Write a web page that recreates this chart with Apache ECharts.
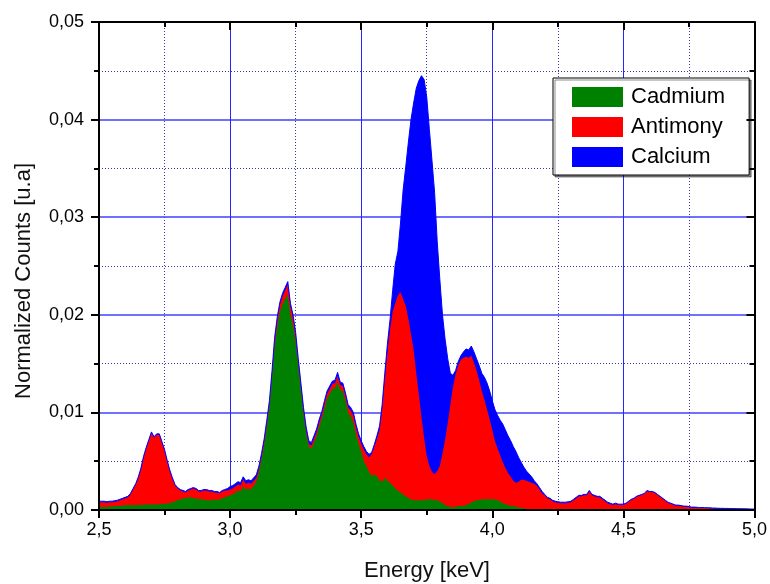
<!DOCTYPE html>
<html>
<head>
<meta charset="utf-8">
<script src="https://cdn.jsdelivr.net/npm/echarts@6/dist/echarts.min.js"></script>
<style>
  html, body { margin: 0; padding: 0; background: #fff; }
  #chart { width: 770px; height: 584px; }
</style>
</head>
<body>
<div id="chart"></div>
<script>
// Spectrum channels: 2.50 keV to 5.00 keV in 0.01 keV steps
const energyStart = 2.5;
const energyStep = 0.01;

const seriesNames = ['Cadmium', 'Antimony', 'Calcium'];
const seriesColors = ['#008000', '#ff0000', '#0000ff'];

// Normalized counts (top of each filled region)
const cadmium = [
  0.0003, 0.0003, 0.0003, 0.0003, 0.00035, 0.00035, 0.0004, 0.0004, 0.0004, 0.00045,
  0.00045, 0.0005, 0.0005, 0.00045, 0.0005, 0.00055, 0.0005, 0.00055, 0.0006, 0.00055,
  0.0006, 0.00055, 0.0006, 0.0006, 0.00065, 0.0006, 0.0007, 0.0007, 0.0008, 0.0009,
  0.0010, 0.0011, 0.0012, 0.0012, 0.0013, 0.0013, 0.0012, 0.0012, 0.0011, 0.0011,
  0.0011, 0.0010, 0.0010, 0.0010, 0.0011, 0.0010, 0.0011, 0.0012, 0.0013, 0.0014,
  0.0015, 0.0016, 0.0018, 0.0020, 0.0019, 0.0024, 0.0021, 0.0022, 0.0021, 0.0025,
  0.0029, 0.0039, 0.0052, 0.0066, 0.0085, 0.0105, 0.0135, 0.0168, 0.0188, 0.0203,
  0.0211, 0.0216, 0.0220, 0.0200, 0.0190, 0.0173, 0.0147, 0.0123, 0.0099, 0.0079,
  0.0065, 0.0063, 0.0069, 0.0076, 0.0086, 0.0094, 0.0104, 0.0114, 0.0119, 0.0124,
  0.0125, 0.0131, 0.0123, 0.0122, 0.0112, 0.0100, 0.0096, 0.0090, 0.0078, 0.0068,
  0.0060, 0.0050, 0.0045, 0.0039, 0.0035, 0.0036, 0.0035, 0.0030, 0.0029, 0.0033,
  0.0030, 0.0028, 0.0025, 0.0022, 0.0020, 0.0018, 0.0016, 0.0014, 0.0012, 0.0011,
  0.0010, 0.0010, 0.0010, 0.0010, 0.0010, 0.0011, 0.0011, 0.0011, 0.0010, 0.0010,
  0.0009, 0.0007, 0.0005, 0.0004, 0.0003, 0.0003, 0.0003, 0.0004, 0.0004, 0.0004,
  0.0005, 0.0006, 0.0008, 0.0009, 0.0010, 0.0010, 0.0011, 0.0011, 0.0011, 0.0011,
  0.0011, 0.0011, 0.0010, 0.0009, 0.0007, 0.0006, 0.0005, 0.0004, 0.0004, 0.0003,
  0.0003, 0.0002, 0.0002, 0.0001, 0.0001, 0.0001, 0.00005, 0.00005, 0, 0,
  0, 0, 0, 0, 0, 0, 0, 0, 0, 0,
  0, 0, 0, 0, 0, 0, 0, 0, 0, 0,
  0, 0, 0, 0, 0, 0, 0, 0, 0, 0,
  0, 0, 0, 0, 0, 0, 0, 0, 0, 0,
  0, 0, 0, 0, 0, 0, 0, 0, 0, 0,
  0, 0, 0, 0, 0, 0, 0, 0, 0, 0,
  0, 0, 0, 0, 0, 0, 0, 0, 0, 0,
  0, 0, 0, 0, 0, 0, 0, 0, 0, 0,
  0
];

const antimony = [
  0.0008, 0.0008, 0.0008, 0.00075, 0.0008, 0.0008, 0.00085, 0.0009, 0.0010, 0.0011,
  0.0012, 0.0013, 0.0016, 0.0021, 0.0026, 0.0033, 0.0042, 0.0054, 0.0063, 0.0071,
  0.0079, 0.0074, 0.0077, 0.0077, 0.0069, 0.0061, 0.0050, 0.0040, 0.0032, 0.0025,
  0.0022, 0.0020, 0.0019, 0.0018, 0.0020, 0.0021, 0.0022, 0.0021, 0.0019, 0.0019,
  0.0020, 0.0020, 0.0019, 0.0019, 0.0018, 0.0018, 0.0017, 0.0019, 0.0020, 0.0020,
  0.0021, 0.0022, 0.0024, 0.0026, 0.0025, 0.0031, 0.0027, 0.0028, 0.0027, 0.0030,
  0.0033, 0.0042, 0.0055, 0.0070, 0.0089, 0.0109, 0.0140, 0.0174, 0.0195, 0.0210,
  0.0219, 0.0225, 0.0231, 0.0209, 0.0197, 0.0179, 0.0152, 0.0127, 0.0102, 0.0082,
  0.0068, 0.0066, 0.0073, 0.0080, 0.0090, 0.0098, 0.0109, 0.0119, 0.0124, 0.0129,
  0.0130, 0.0137, 0.0128, 0.0127, 0.0117, 0.0105, 0.0102, 0.0097, 0.0085, 0.0075,
  0.0068, 0.0062, 0.0057, 0.0054, 0.0057, 0.0065, 0.0073, 0.0082, 0.0104, 0.0134,
  0.0162, 0.0185, 0.0203, 0.0212, 0.0220, 0.0223, 0.0216, 0.0209, 0.0196, 0.0180,
  0.0164, 0.0140, 0.0118, 0.0095, 0.0074, 0.0055, 0.0045, 0.0039, 0.0037, 0.0040,
  0.0045, 0.0058, 0.0072, 0.0089, 0.0108, 0.0126, 0.0139, 0.0148, 0.0154, 0.0156,
  0.0157, 0.0156, 0.0158, 0.0151, 0.0143, 0.0133, 0.0122, 0.0113, 0.0103, 0.0093,
  0.0082, 0.0071, 0.0063, 0.0056, 0.0049, 0.0043, 0.0038, 0.0034, 0.0030, 0.0028,
  0.0029, 0.0031, 0.0031, 0.0030, 0.0029, 0.0028, 0.0027, 0.0025, 0.0021, 0.0017,
  0.0015, 0.0012, 0.0011, 0.0009, 0.0008, 0.00075, 0.0007, 0.0007, 0.0007, 0.00075,
  0.0008, 0.0010, 0.0012, 0.0014, 0.0014, 0.0015, 0.0015, 0.0019, 0.0015, 0.0014,
  0.0013, 0.0013, 0.0011, 0.0009, 0.0007, 0.0006, 0.0005, 0.0006, 0.0005, 0.0005,
  0.00055, 0.00065, 0.00085, 0.00105, 0.00115, 0.00135, 0.00145, 0.00155, 0.00165, 0.00195,
  0.00185, 0.00185, 0.00175, 0.00155, 0.00135, 0.00115, 0.00095, 0.00075, 0.00065, 0.00055,
  0.00045, 0.00045, 0.0004, 0.00035, 0.00035, 0.0003, 0.00025, 0.00025, 0.00023, 0.0002,
  0.0002, 0.0002, 0.0002, 0.00018, 0.00016, 0.00016, 0.00014, 0.00013, 0.00013, 0.00012,
  0.00012, 0.00011, 0.00011, 0.0001, 0.0001, 0.0001, 0.00009, 0.00009, 0.00008, 0.00007,
  0.00007
];

const calcium = [
  0.0009, 0.0009, 0.0009, 0.00085, 0.0009, 0.0009, 0.00095, 0.0010, 0.0011, 0.0012,
  0.0013, 0.0014, 0.0017, 0.0022, 0.0027, 0.0034, 0.0043, 0.0055, 0.0064, 0.0072,
  0.0080, 0.0075, 0.0078, 0.0078, 0.0070, 0.0062, 0.0051, 0.0041, 0.0033, 0.0026,
  0.0023, 0.0021, 0.0020, 0.0019, 0.0021, 0.0022, 0.0023, 0.0022, 0.0020, 0.0020,
  0.0021, 0.0021, 0.0020, 0.0020, 0.0019, 0.0019, 0.0018, 0.0020, 0.0021, 0.0022,
  0.0024, 0.0025, 0.0027, 0.0029, 0.0028, 0.0034, 0.0030, 0.0031, 0.0030, 0.0033,
  0.0036, 0.0045, 0.0058, 0.0073, 0.0092, 0.0112, 0.0143, 0.0177, 0.0198, 0.0213,
  0.0222, 0.0228, 0.0234, 0.0212, 0.0200, 0.0182, 0.0155, 0.0130, 0.0105, 0.0085,
  0.0071, 0.0069, 0.0076, 0.0083, 0.0093, 0.0101, 0.0112, 0.0122, 0.0127, 0.0132,
  0.0133, 0.0141, 0.0131, 0.0130, 0.0120, 0.0108, 0.0105, 0.0100, 0.0088, 0.0078,
  0.0071, 0.0065, 0.0060, 0.0057, 0.0059, 0.0067, 0.0076, 0.0086, 0.0108, 0.0140,
  0.0170, 0.0195, 0.0225, 0.0252, 0.0265, 0.0294, 0.0328, 0.0352, 0.0377, 0.0400,
  0.0417, 0.0432, 0.0440, 0.0445, 0.0441, 0.0423, 0.0390, 0.0358, 0.0325, 0.0275,
  0.0236, 0.0200, 0.0175, 0.0155, 0.0140, 0.0138, 0.0143, 0.0152, 0.0158, 0.0162,
  0.0165, 0.0164, 0.0168, 0.0162, 0.0155, 0.0148, 0.0140, 0.0136, 0.0130, 0.0122,
  0.0112, 0.0103, 0.0097, 0.0092, 0.0088, 0.0082, 0.0076, 0.0071, 0.0065, 0.0060,
  0.0054, 0.0049, 0.0044, 0.0040, 0.0037, 0.0034, 0.0030, 0.0027, 0.0023, 0.0019,
  0.0016, 0.0013, 0.0012, 0.0010, 0.0009, 0.00085, 0.0008, 0.0008, 0.0008, 0.00085,
  0.0009, 0.0011, 0.0013, 0.0015, 0.0015, 0.0016, 0.0016, 0.0020, 0.0016, 0.0015,
  0.0014, 0.0014, 0.0012, 0.0010, 0.0008, 0.0007, 0.0006, 0.0007, 0.0006, 0.0006,
  0.0006, 0.0007, 0.0009, 0.0011, 0.0012, 0.0014, 0.0015, 0.0016, 0.0017, 0.0020,
  0.0019, 0.0019, 0.0018, 0.0016, 0.0014, 0.0012, 0.0010, 0.0008, 0.0007, 0.0006,
  0.0005, 0.0005, 0.00045, 0.0004, 0.0004, 0.00035, 0.0003, 0.0003, 0.00028, 0.00025,
  0.00025, 0.00024, 0.00024, 0.00022, 0.0002, 0.0002, 0.00018, 0.00017, 0.00017, 0.00016,
  0.00016, 0.00015, 0.00015, 0.00014, 0.00014, 0.00013, 0.00012, 0.00012, 0.00011, 0.0001,
  0.0001
];

const xRange = { min: 2.5, max: 5.0, interval: 0.5 };
const yRange = { min: 0, max: 0.05, interval: 0.01 };

const FONT = '"Liberation Sans", Arial, Helvetica, sans-serif';
const fmtX = v => v.toFixed(1).replace('.', ',');
const fmtY = v => v.toFixed(2).replace('.', ',');

const toPoints = arr => arr.map((v, i) => [energyStart + i * energyStep, v]);

const blackLine = { color: '#000', width: 2 };

function frameAxis(position, inside, labels, extra) {
  return Object.assign({
    type: 'value',
    position: position,
    z: 5,
    axisLine: { show: true, onZero: false, lineStyle: blackLine },
    axisTick: { show: true, inside: inside, length: 8, lineStyle: blackLine },
    minorTick: { show: true, splitNumber: 2, length: 5, lineStyle: blackLine },
    splitLine: { show: false },
    minorSplitLine: { show: false },
    axisLabel: labels || { show: false }
  }, extra);
}

const chart = echarts.init(document.getElementById('chart'), null, { renderer: 'canvas' });

const option = {
  animation: false,
  backgroundColor: '#fff',
  grid: { left: 99, right: 15, top: 22, bottom: 74, show: false },
  xAxis: [
    // grid lines behind the spectra
    Object.assign({
      type: 'value', position: 'bottom', z: 0,
      axisLine: { show: false }, axisTick: { show: false }, axisLabel: { show: false },
      splitLine: { show: true, lineStyle: { color: '#2626ff', width: 1 } },
      minorTick: { show: false, splitNumber: 2 },
      minorSplitLine: { show: true, lineStyle: { color: '#3a3aa8', width: 1, type: [1, 2] } }
    }, xRange),
    frameAxis('bottom', false, {
      show: true, margin: 11, formatter: fmtX,
      color: '#000', fontSize: 18, fontFamily: FONT
    }, xRange),
    frameAxis('top', true, null, xRange)
  ],
  yAxis: [
    Object.assign({
      type: 'value', position: 'left', z: 0,
      axisLine: { show: false }, axisTick: { show: false }, axisLabel: { show: false },
      splitLine: { show: true, lineStyle: { color: '#7070ff', width: 2 } },
      minorTick: { show: false, splitNumber: 2 },
      minorSplitLine: { show: true, lineStyle: { color: '#3a3aa8', width: 1, type: [1, 2] } }
    }, yRange),
    frameAxis('left', false, {
      show: true, margin: 15, formatter: fmtY,
      color: '#000', fontSize: 18, fontFamily: FONT
    }, yRange),
    frameAxis('right', true, null, yRange)
  ],
  legend: {
    orient: 'vertical',
    left: 553,
    top: 78,
    data: seriesNames.map((n, i) => ({ name: n, itemStyle: { color: seriesColors[i] } })),
    icon: 'rect',
    itemWidth: 51,
    itemHeight: 20,
    itemGap: 8,
    padding: [8, 24, 7, 19],
    borderColor: '#000',
    borderWidth: 1,
    borderRadius: 0,
    backgroundColor: '#fff',
    shadowColor: 'rgba(0,0,0,0.45)',
    shadowOffsetX: 2,
    shadowOffsetY: 2,
    shadowBlur: 0,
    selectedMode: false,
    textStyle: { fontSize: 22, lineHeight: 20, color: '#000', fontFamily: FONT, padding: [0, 0, 0, 3] }
  },
  graphic: [
    {
      type: 'text',
      x: 427, y: 571,
      style: {
        text: 'Energy [keV]', font: '22px ' + FONT, fill: '#111',
        align: 'center', verticalAlign: 'middle'
      }
    },
    {
      type: 'text',
      x: 24, y: 281,
      rotation: Math.PI / 2,
      style: {
        text: 'Normalized Counts [u.a]', font: '22px ' + FONT, fill: '#111',
        align: 'center', verticalAlign: 'middle'
      }
    }
  ],
  series: [
    {
      name: 'Calcium', type: 'line', xAxisIndex: 0, yAxisIndex: 0,
      data: toPoints(calcium), showSymbol: false, symbol: 'none', sampling: null,
      color: seriesColors[2],
      lineStyle: { width: 1, color: seriesColors[2] },
      areaStyle: { color: seriesColors[2], opacity: 1 }, z: 2
    },
    {
      name: 'Antimony', type: 'line', xAxisIndex: 0, yAxisIndex: 0,
      data: toPoints(antimony), showSymbol: false, symbol: 'none',
      color: seriesColors[1],
      lineStyle: { width: 0 },
      areaStyle: { color: seriesColors[1], opacity: 1 }, z: 2
    },
    {
      name: 'Cadmium', type: 'line', xAxisIndex: 0, yAxisIndex: 0,
      data: toPoints(cadmium), showSymbol: false, symbol: 'none',
      color: seriesColors[0],
      lineStyle: { width: 0 },
      areaStyle: { color: seriesColors[0], opacity: 1 }, z: 2
    }
  ]
};

chart.setOption(option);
</script>
</body>
</html>
